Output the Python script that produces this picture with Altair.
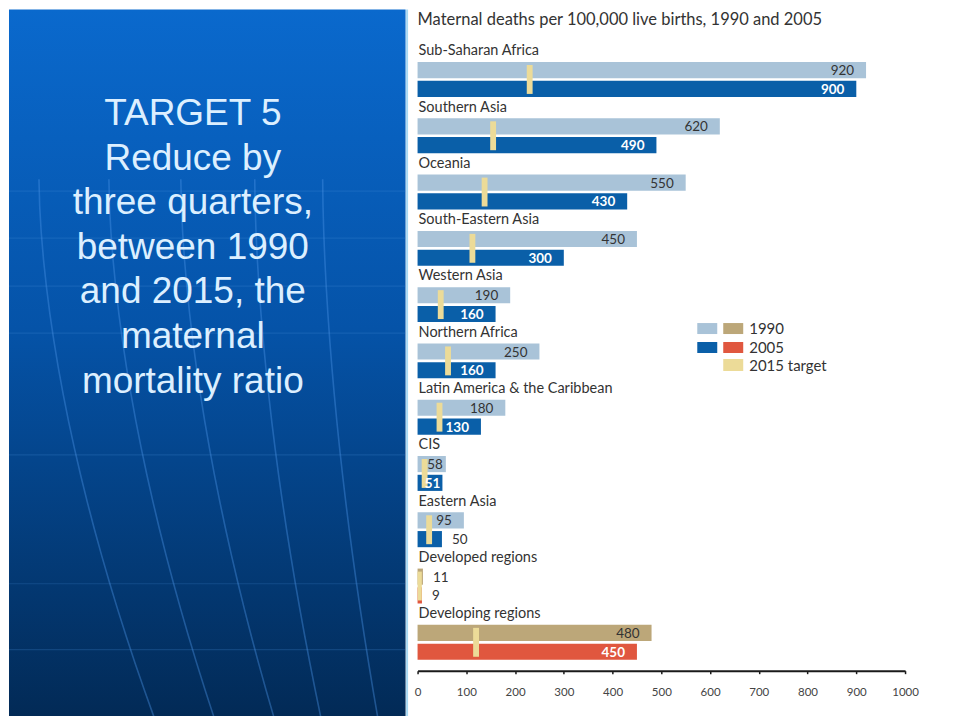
import altair as alt
import pandas as pd

# ---------------- data ----------------
regions = [
    "Sub-Saharan Africa", "Southern Asia", "Oceania", "South-Eastern Asia",
    "Western Asia", "Northern Africa", "Latin America & the Caribbean", "CIS",
    "Eastern Asia", "Developed regions", "Developing regions",
]
region_kind = ["region"] * 9 + ["aggregate"] * 2
mmr_1990 = [920, 620, 550, 450, 190, 250, 180, 58, 95, 11, 480]
mmr_2005 = [900, 490, 430, 300, 160, 160, 130, 51, 50, 9, 450]
x_ticks = [0, 100, 200, 300, 400, 500, 600, 700, 800, 900, 1000]
chart_title = "Maternal deaths per 100,000 live births, 1990 and 2005"
legend_labels = ["1990", "2005", "2015 target"]
slide_lines = ["TARGET 5", "Reduce by", "three quarters,", "between 1990",
               "and 2015, the", "maternal", "mortality ratio"]

# ---------------- tables ----------------
rows = []
for i, (r, k, a, b) in enumerate(zip(regions, region_kind, mmr_1990, mmr_2005)):
    rows.append(dict(region=r, kind=k, year="1990", value=a, pos=i * 3 + 1))
    rows.append(dict(region=r, kind=k, year="2005", value=b, pos=i * 3 + 2))
bars = pd.DataFrame(rows)
bars["series"] = bars["kind"] + "-" + bars["year"]

groups = pd.DataFrame({
    "region": regions,
    "pos": [i * 3 for i in range(len(regions))],
    "v1990": mmr_1990,
})

one = pd.DataFrame({"k": [0]})

FONT = "Lato"
DARK = "#333333"
C_LBLUE = "#a9c3d8"
C_BLUE = "#0a5fa8"
C_TAN = "#bca779"
C_RED = "#e0573f"
C_YEL = "#ecdb98"

xs = alt.Scale(domain=[0, 1000], range=[409, 897], nice=False, zero=False)
ys = alt.Scale(domain=[0, 32], range=[42, 643], nice=False, zero=False)
xaxis = alt.Axis(values=x_ticks, format="d", title=None, grid=False, domainColor="#1a1a1a",
                 domainWidth=2, tickColor="#1a1a1a", tickSize=3, tickWidth=1.5,
                 labelFont=FONT, labelFontSize=11.5, labelColor="#444444",
                 labelPadding=13, labelFlush=False)

# ---------------- slide decorations ----------------
grad = alt.LinearGradient(
    gradient="linear", x1=0, x2=0, y1=0, y2=1,
    stops=[alt.GradientStop(color="#0a69cd", offset=0),
           alt.GradientStop(color="#0553a8", offset=0.45),
           alt.GradientStop(color="#022a56", offset=1)],
)
panel = alt.Chart(one).mark_rect(color=grad).encode(
    x=alt.value(0), x2=alt.value(397), y=alt.value(0), y2=alt.value(708))

hlines = [alt.Chart(one).mark_rule(color="#4b93e0", strokeWidth=1.2, opacity=0.22).encode(
    x=alt.value(0), x2=alt.value(397), y=alt.value(yy)) for yy in [182, 229, 277, 324, 446, 575, 641]]

# faint globe meridians (decoration, drawn in page-pixel terms through the shared scales)
mer_rows = []
for m, (top, mid, bot) in enumerate([(30, 47, 145), (100, 115, 205), (172, 185, 265),
                                      (246, 257, 312), (314, 322, 369)]):
    for t in range(0, 21):
        f = t / 20.0
        py = 170 + f * 538
        # smooth curve through the three anchor x values (top, at y=392, bottom)
        g = (py - 170) / 538
        px = top + (bot - top) * (g ** 1.7) + (mid - top - (bot - top) * ((222 / 538) ** 1.7)) * (1 - abs(2 * g - 1)) * 0
        mer_rows.append(dict(m=m, ord=t, px=px, py=py))
mer = pd.DataFrame(mer_rows)
meridians = alt.Chart(mer).transform_calculate(
    mx="(datum.px - 409) * 1000 / 488", my="(datum.py - 42) * 32 / 601"
).mark_line(color="#4a94e6", strokeWidth=1.6, opacity=0.4).encode(
    x=alt.X("mx:Q", scale=xs, axis=xaxis), y=alt.Y("my:Q", scale=ys, axis=None),
    detail="m:N", order="ord:Q")

border = alt.Chart(one).mark_rule(color="#a9d9f3", strokeWidth=2).encode(
    x=alt.value(398.5), y=alt.value(0), y2=alt.value(708))

slide_text = alt.Chart(one).mark_text(
    text=slide_lines, font="Liberation Sans", fontSize=37, lineHeight=44.6,
    color="#dcefff", align="center", baseline="alphabetic",
).encode(x=alt.value(184), y=alt.value(116))

title = alt.Chart(one).mark_text(
    text=chart_title, font=FONT, fontSize=16.5, color=DARK, align="left",
    baseline="middle").encode(x=alt.value(409), y=alt.value(11))

# ---------------- data marks ----------------
bar_layer = alt.Chart(bars).transform_calculate(
    y1="datum.pos - 0.43", y2="datum.pos + 0.43", x0="0"
).mark_rect().encode(
    x=alt.X("value:Q", scale=xs, axis=xaxis),
    x2="x0:Q",
    y=alt.Y("y1:Q", scale=ys, axis=None),
    y2="y2:Q",
    color=alt.Color("series:N", legend=None, scale=alt.Scale(
        domain=["region-1990", "region-2005", "aggregate-1990", "aggregate-2005"],
        range=[C_LBLUE, C_BLUE, C_TAN, C_RED])),
)

target_layer = alt.Chart(groups).transform_calculate(
    tx1="max(0, datum.v1990 / 4 - 6)", tx2="datum.v1990 / 4 + 6",
    ty1="datum.pos + 1 - 0.27", ty2="datum.pos + 2 + 0.27",
).mark_rect(color=C_YEL).encode(
    x=alt.X("tx1:Q", scale=xs, axis=xaxis), x2="tx2:Q",
    y=alt.Y("ty1:Q", scale=ys, axis=None), y2="ty2:Q",
)

region_labels = alt.Chart(groups).transform_calculate(x0="0").mark_text(
    font=FONT, fontSize=14.5, color=DARK, align="left", baseline="middle", dx=1
).encode(
    x=alt.X("x0:Q", scale=xs, axis=xaxis),
    y=alt.Y("pos:Q", scale=ys, axis=None),
    text="region:N",
)


def value_text(filter_expr, align, dx, color, weight):
    return alt.Chart(bars).transform_filter(filter_expr).mark_text(
        font=FONT, fontSize=13.5, color=color, align=align, baseline="middle",
        dx=dx, dy=1, fontWeight=weight,
    ).encode(
        x=alt.X("value:Q", scale=xs, axis=xaxis),
        y=alt.Y("pos:Q", scale=ys, axis=None),
        text="value:Q",
    )


t1 = value_text("datum.year == '1990' && datum.value >= 90", "right", -12, DARK, 400)
t2 = value_text("datum.year == '2005' && datum.value >= 90", "right", -12, "white", 700)
t3 = value_text("datum.year == '1990' && datum.value > 50 && datum.value < 90", "right", -3, DARK, 400)
t4 = value_text("datum.year == '2005' && datum.value > 50 && datum.value < 90", "right", -2, "white", 700)
t5 = value_text("datum.value <= 50", "left", 10, DARK, 400)

# ---------------- legend ----------------
def swatch(x1, x2, y1, y2, c):
    return alt.Chart(one).mark_rect(color=c).encode(
        x=alt.value(x1), x2=alt.value(x2), y=alt.value(y1), y2=alt.value(y2))


def leg_text(t, y):
    return alt.Chart(one).mark_text(text=t, font=FONT, fontSize=15, color=DARK,
                                    align="left", baseline="middle").encode(
        x=alt.value(741), y=alt.value(y))


legend = [
    swatch(689, 709, 314, 325, C_LBLUE), swatch(715, 735, 314, 325, C_TAN),
    swatch(689, 709, 333, 344, C_BLUE), swatch(715, 735, 333, 344, C_RED),
    swatch(715, 735, 350, 362, C_YEL),
    leg_text(legend_labels[0], 320), leg_text(legend_labels[1], 339),
    leg_text(legend_labels[2], 357),
]

chart = alt.layer(
    panel, *hlines, meridians, border, slide_text, title,
    bar_layer, target_layer, region_labels, t1, t2, t3, t4, t5, *legend,
).properties(width=944, height=662, padding=0).configure_view(stroke=None)

chart.save("out.html", embed_options={"renderer": "svg", "actions": False})
